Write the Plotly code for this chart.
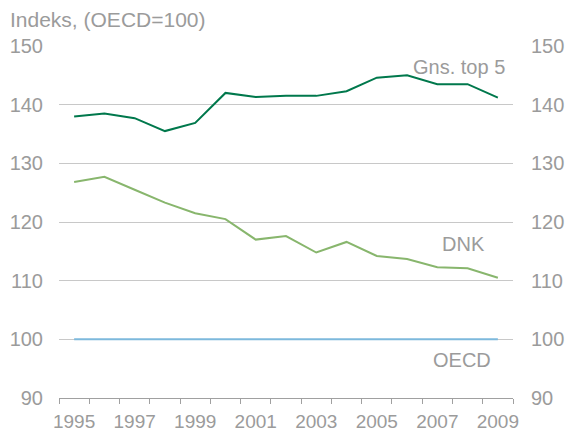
import plotly.graph_objects as go

years = list(range(1995, 2010))
gns_top5 = [138.0, 138.5, 137.7, 135.5, 136.9, 142.0, 141.3, 141.5, 141.5, 142.3, 144.6, 145.0, 143.5, 143.5, 141.2]
dnk = [126.8, 127.7, 125.5, 123.3, 121.5, 120.5, 117.0, 117.6, 114.8, 116.6, 114.2, 113.7, 112.3, 112.1, 110.5]
oecd = [100] * 15
label_years = [1995, 1997, 1999, 2001, 2003, 2005, 2007, 2009]
y_ticks = [90, 100, 110, 120, 130, 140, 150]

FONT = "Liberation Sans, Arial, sans-serif"
TXT = "#9B9B9B"

fig = go.Figure()
fig.add_trace(go.Scatter(x=years, y=oecd, mode="lines", line=dict(color="#7DB9DC", width=2), name="OECD"))
fig.add_trace(go.Scatter(x=years, y=dnk, mode="lines", line=dict(color="#88B66D", width=2), name="DNK"))
fig.add_trace(go.Scatter(x=years, y=gns_top5, mode="lines", line=dict(color="#00784C", width=2), name="Gns. top 5"))
# invisible trace to carry secondary axes
fig.add_trace(go.Scatter(x=years, y=oecd, mode="lines", line=dict(width=0), opacity=0,
                         xaxis="x2", yaxis="y2", hoverinfo="skip", showlegend=False))

boundaries = [y - 0.5 for y in years] + [years[-1] + 0.5]

fig.update_layout(
    width=566, height=438, autosize=False,
    margin=dict(l=59, r=53, t=46, b=40, autoexpand=False),
    paper_bgcolor="white", plot_bgcolor="white",
    showlegend=False,
    font=dict(family=FONT, size=20, color=TXT),
    xaxis=dict(range=[1994.5, 2009.5], tickvals=boundaries, ticktext=[""] * len(boundaries),
               ticks="outside", ticklen=5, tickcolor="#A0A0A0", showgrid=False, automargin=False,
               showline=True, linecolor="#A0A0A0", linewidth=1, zeroline=False),
    xaxis2=dict(range=[1994.5, 2009.5], overlaying="x", side="bottom", tickvals=label_years,
                ticktext=[str(y) for y in label_years], ticks="", showgrid=False, showline=False,
                zeroline=False, tickfont=dict(size=19, color=TXT), ticklabelstandoff=10, automargin=False),
    yaxis=dict(range=[90, 150], tickvals=y_ticks, showgrid=True, gridcolor="#C8C8C8", gridwidth=1,
               zeroline=False, showline=False, ticks="", tickfont=dict(size=20, color=TXT),
               ticklabelstandoff=15, automargin=False),
    yaxis2=dict(range=[90, 150], overlaying="y", side="right", tickvals=y_ticks, showgrid=False,
                zeroline=False, showline=False, ticks="", tickfont=dict(size=20, color=TXT),
                ticklabelstandoff=17, automargin=False),
    annotations=[
        dict(text="Indeks, (OECD=100)", xref="paper", yref="paper", x=-51/454, y=1 + 26/352,
             xanchor="left", yanchor="middle", showarrow=False, font=dict(size=21, color=TXT)),
        dict(text="Gns. top 5", x=2007.7, y=146.5, xanchor="center", yanchor="middle", showarrow=False,
             font=dict(size=20, color=TXT)),
        dict(text="DNK", x=2007.85, y=116.2, xanchor="center", yanchor="middle", showarrow=False,
             font=dict(size=20, color=TXT)),
        dict(text="OECD", x=2007.8, y=96.4, xanchor="center", yanchor="middle", showarrow=False,
             font=dict(size=20, color=TXT)),
    ],
)

fig.write_html("out.html", config={"displayModeBar": False, "responsive": False},
               post_script="document.body.style.margin='0';")
